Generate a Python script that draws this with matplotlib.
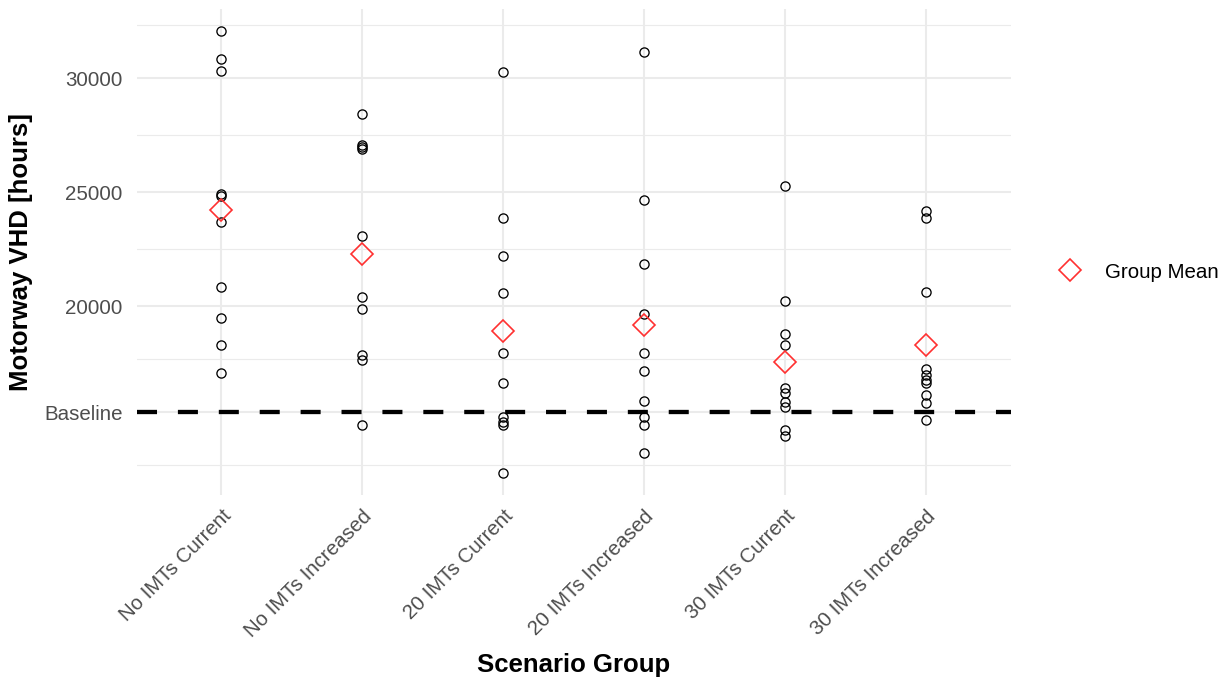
import numpy as np
import matplotlib
matplotlib.use("Agg")
import matplotlib.pyplot as plt
from matplotlib.lines import Line2D

plt.rcParams['font.family'] = ['Liberation Sans', 'DejaVu Sans']

# ---- data ----
categories = ["No IMTs Current", "No IMTs Increased", "20 IMTs Current",
              "20 IMTs Increased", "30 IMTs Current", "30 IMTs Increased"]
no_imts_current = [32075, 30833, 30333, 24925, 24850, 23710, 20860, 19474, 18316, 17075]
no_imts_increased = [28421, 27090, 27000, 26910, 23096, 20421, 19895, 17864, 17645, 14794]
imts20_current = [30263, 23873, 22206, 20597, 17938, 16649, 15160, 14940, 14790, 12675]
imts20_increased = [31167, 24662, 21855, 19662, 17965, 17162, 15833, 15158, 14794, 13553]
imts30_current = [25276, 20246, 18785, 18290, 16400, 16210, 15816, 15600, 14560, 14290]
imts30_increased = [24193, 23860, 20640, 17237, 16987, 16768, 16623, 16110, 15746, 15013]
baseline = 15351
y_major_values = [20000, 25000, 30000]
y_tick_labels = ["Baseline", "20000", "25000", "30000"]

groups = [no_imts_current, no_imts_increased, imts20_current,
          imts20_increased, imts30_current, imts30_increased]

W, H = 1231, 680
fig = plt.figure(figsize=(W / 100, H / 100), dpi=100)
ax = fig.add_axes([136.7 / W, 1 - 495.4 / H, (1010.7 - 136.7) / W, (495.4 - 8.9) / H])

grid_col = '#EBEBEB'

# points
for i, vals in enumerate(groups):
    ax.plot(np.full(len(vals), i), vals, ls='none', marker='o', ms=6.6,
            mfc='none', mec='black', mew=0.95, zorder=3)

# baseline
ax.axhline(baseline, color='black', lw=3.1, ls=(0, (4.65, 4.85)), zorder=2)

# means
means = [np.mean(v) for v in groups]
ax.plot(range(len(groups)), means, ls='none', marker='D', ms=10.8,
        mfc='none', mec='#FF3030', mew=1.2, zorder=4)

# limits
allv = np.concatenate([np.array(g, float) for g in groups] + [[baseline]])
rng = allv.max() - allv.min()
ax.set_ylim(allv.min() - 0.05 * rng, allv.max() + 0.05 * rng)
ax.set_xlim(-0.6, len(categories) - 0.4)

# ticks
major = [baseline] + y_major_values
ax.set_yticks(major)
ax.set_yticklabels(y_tick_labels)
b = sorted(major)
bd = b[1] - b[0]
ext = [b[0] - bd] + b + [b[-1] + bd]
minor = [(ext[k] + ext[k + 1]) / 2 for k in range(len(ext) - 1)]
ax.set_yticks(minor, minor=True)
ax.set_xticks(range(len(categories)))
ax.set_xticklabels(categories, rotation=45, ha='right', va='top',
                   rotation_mode='anchor')

ax.tick_params(axis='both', which='both', length=0, colors='#4D4D4D',
               labelsize=14.8)
ax.tick_params(axis='y', pad=10)
ax.tick_params(axis='x', pad=8)

ax.grid(which='major', color=grid_col, lw=1.5, zorder=0)
ax.grid(which='minor', axis='y', color=grid_col, lw=0.8, zorder=0)
ax.set_axisbelow(True)
for s in ax.spines.values():
    s.set_visible(False)

ax.set_xlabel("Scenario Group", fontsize=18.5, fontweight='bold', color='black')
ax.set_ylabel("Motorway VHD [hours]", fontsize=18.5, fontweight='bold',
              color='black')
ph = 495.4 - 8.9
pw = 1010.7 - 136.7
ax.xaxis.set_label_coords(0.5, -(653 - 495.4) / ph)
ax.yaxis.set_label_coords(-(136.7 - 33) / pw, 0.5)

# legend
handle = Line2D([], [], ls='none', marker='D', ms=10.8, mfc='none',
                mec='#FF3030', mew=1.2)
fig.legend([handle], ["Group Mean"], loc='center left',
           bbox_to_anchor=(1058 / W, 1 - 272 / H), frameon=False,
           fontsize=14.8, handlelength=1.2, handletextpad=1.1,
           borderpad=0, borderaxespad=0)

fig.savefig("out.png", dpi=100)
